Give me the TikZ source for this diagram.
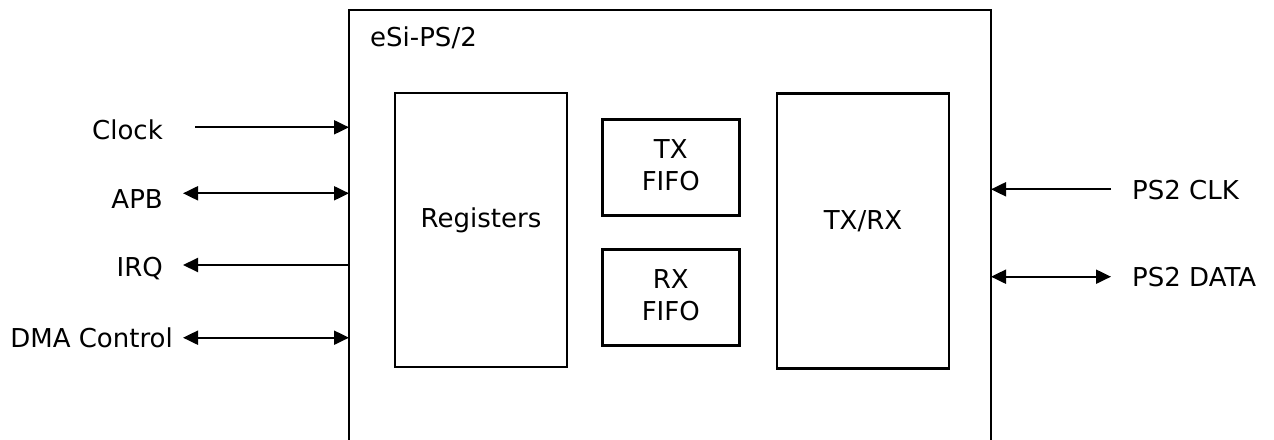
\documentclass[tikz,border=0pt]{standalone}
\usepackage{fontspec}
\setmainfont{DejaVu Sans}
\usetikzlibrary{arrows.meta}
\begin{document}
\begin{tikzpicture}[x=1pt,y=-1pt,
  box/.style={draw, line width=2.4pt, inner sep=0pt, outer sep=0pt, anchor=north west},
  lbl/.style={inner sep=0pt, font=\fontsize{26}{32}\selectfont},
  sig/.style={line width=2pt, {Triangle[length=15pt,width=14pt]}-{Triangle[length=15pt,width=14pt]}},
  sigin/.style={line width=2pt, -{Triangle[length=15pt,width=14pt]}},
  sigout/.style={line width=2pt, {Triangle[length=15pt,width=14pt]}-}]
\useasboundingbox (0,0) rectangle (1274,439);
% main block (open at the bottom, extends beyond the page)
\node[box, minimum width=642pt, minimum height=480pt] (chip) at (349,10) {};
\node[lbl, anchor=base west] (title) at (370,46.7) {eSi-PS/2};
% inner blocks
\node[box, minimum width=172pt, minimum height=274pt] (reg) at (395,93) {};
\node[box, minimum width=137pt, minimum height=96pt] (txf) at (602.5,119.5) {};
\node[box, minimum width=137pt, minimum height=96pt] (rxf) at (602.5,249.5) {};
\node[box, minimum width=172pt, minimum height=275pt] (trx) at (777,93.5) {};
\node[lbl, anchor=base] (regl) at (481,227.7) {Registers};
\node[lbl, anchor=base] (trxl) at (863,229) {TX/RX};
\node[lbl, anchor=base, align=center] (txfl) at (670.8,190) {TX\\FIFO};
\node[lbl, anchor=base, align=center] (rxfl) at (670.8,320) {RX\\FIFO};
% left signals
\node[lbl, anchor=base east] (clk) at (163,139.3) {Clock};
\node[lbl, anchor=base east] (apb) at (163,208.3) {APB};
\node[lbl, anchor=base east] (irq) at (163,276.7) {IRQ};
\node[lbl, anchor=base east] (dma) at (173,347.3) {DMA Control};
\coordinate (clkS) at (195,127.3);
\coordinate (apbS) at (183,193.3);
\coordinate (irqS) at (183,265);
\coordinate (dmaS) at (183,337.7);
\draw[sigin] (clkS) -- (clkS -| chip.west);
\draw[sig] (apbS) -- (apbS -| chip.west);
\draw[sigout] (irqS) -- (irqS -| chip.west);
\draw[sig] (dmaS) -- (dmaS -| chip.west);
% right signals
\node[lbl, anchor=base west] (ps2clk) at (1132,199.3) {PS2 CLK};
\node[lbl, anchor=base west] (ps2dat) at (1132,286) {PS2 DATA};
\coordinate (ckS) at (1111,189.3);
\coordinate (dtS) at (1111,276.7);
\draw[sigin] (ckS) -- (ckS -| chip.east);
\draw[sig] (dtS) -- (dtS -| chip.east);
\end{tikzpicture}
\end{document}
